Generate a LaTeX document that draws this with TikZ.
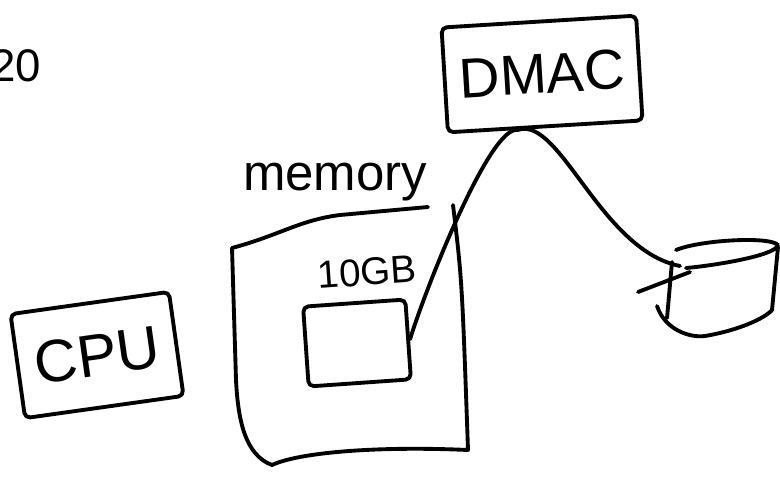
\documentclass[tikz,border=0pt]{standalone}
\usepackage{fontspec}
\setmainfont{Liberation Sans}

\begin{document}
\begin{tikzpicture}[x=0.02cm, y=-0.02cm, line width=2.2pt, line cap=round, line join=round,
    box/.style={draw, rounded corners=3pt, inner sep=0pt},
    hand/.style={font=\fontsize{#1}{#1}\selectfont}]
  \useasboundingbox (0,0) rectangle (780,477);

  \node[hand=26] (num) at (16,66) {20};

  \node[box, hand=32, rotate=3.5, minimum width=3.9cm, minimum height=2.1cm] (dmac) at (542,74) {DMAC};
  \node[box, hand=34, rotate=8, minimum width=3.2cm, minimum height=2.1cm] (cpu) at (97,355) {CPU};

  % memory with its 10GB buffer
  \node[hand=29] (memlabel) at (335,182) {memory};
  \draw (453,205) .. controls (462,280) .. (468,450)
        .. controls (380,446) and (300,452) .. (272,465)
        .. controls (245,455) and (238,420) .. (236,380) -- (232,248)
        .. controls (280,235) and (300,220) .. (340,215) -- (428,207);
  \node[hand=22, rotate=4] (size) at (367,272) {10GB};
  \node[box, rotate=4, minimum width=2.05cm, minimum height=1.6cm] (buf) at (357,343) {};

  % disk
  \draw (676,250) .. controls (700,240) and (770,236) .. (778,245)
        .. controls (776,256) and (710,266) .. (686,268);
  \draw (672,262) -- (667,318);
  \draw (778,247) -- (772,310);
  \draw (657,306) .. controls (665,330) and (690,338) .. (705,336)
        .. controls (740,330) and (765,318) .. (772,310);
  \draw (638,292) -- (690,272);
  \coordinate (disk) at (680,266);

  \draw (buf.east) .. controls (425,290) and (490,125) .. (dmac.243)
        .. controls (560,115) and (600,250) .. (disk);
\end{tikzpicture}
\end{document}
